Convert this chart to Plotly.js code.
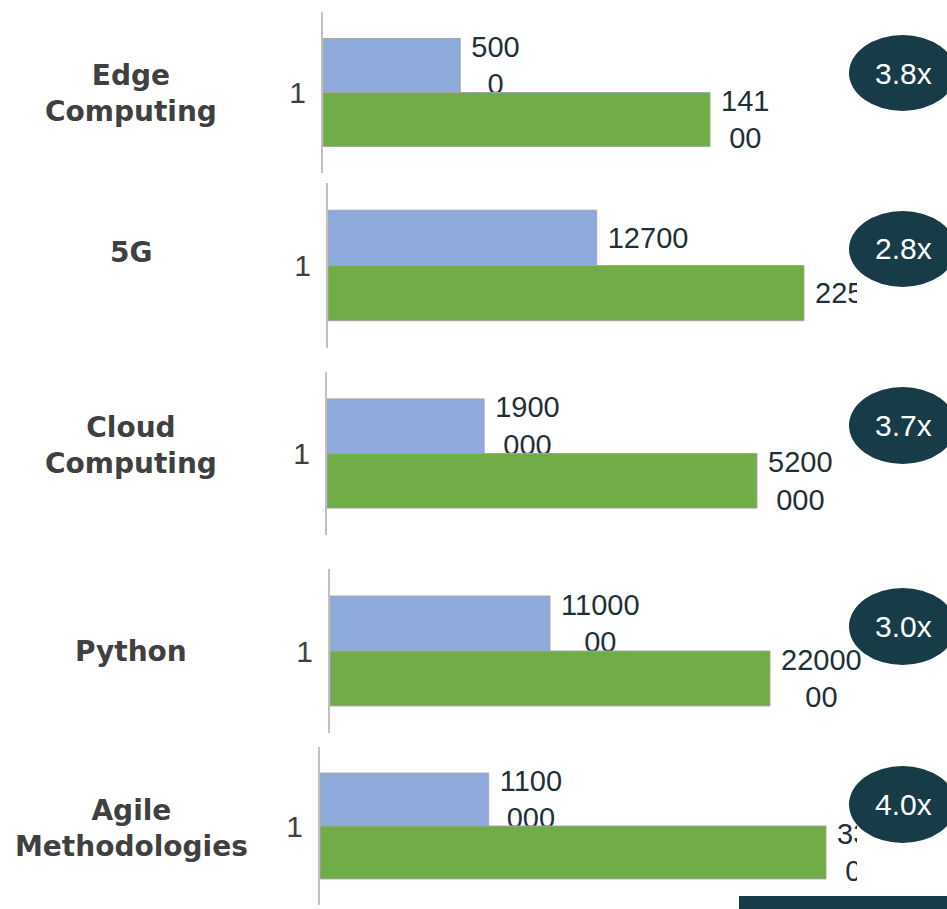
<!DOCTYPE html>
<html>
<head>
<meta charset="utf-8">
<script src="https://cdn.plot.ly/plotly-3.0.1.min.js"></script>
<style>html,body{margin:0;padding:0;background:#fff;}#chart{width:947px;height:909px;}</style>
</head>
<body>
<div id="chart"></div>
<script>
// ---- data ----
const categories = ["Edge<br>Computing", "5G", "Cloud<br>Computing", "Python", "Agile<br>Methodologies"];
const tickLabel = "1";
const blueValues = [5000, 12700, 1900000, 1100000, 1100000];
const greenValues = [14100, 22500, 5200000, 2200000, 3300000];
const ratioLabels = ["3.8x", "2.8x", "3.7x", "3.0x", "4.0x"];
const wrapWidths = [3, 5, 4, 5, 4];

// ---- layout helpers (pixel geometry of each panel) ----
const W = 947, H = 909;
const panels = [
  {ax: 323, clip: 857, top: 12,  bottom: 173, xmax: 19456,   oval: [35, 111]},
  {ax: 328, clip: 857, top: 183, bottom: 348, xmax: 25005,   oval: [211, 287]},
  {ax: 327, clip: 862, top: 372, bottom: 535, xmax: 6469767, oval: [387, 464]},
  {ax: 330, clip: 866, top: 569, bottom: 733, xmax: 2680000, oval: [588, 665]},
  {ax: 320, clip: 857, top: 747, bottom: 905, xmax: 3502174, oval: [766, 843]}
];
const labelY = [93, 252, 445, 651, 828];

function wrap(v, n) {
  const s = String(v);
  const parts = [];
  for (let i = 0; i < s.length; i += n) parts.push('\u00a0' + s.slice(i, i + n));
  return parts.join('<br>');
}

const BLUE = '#8eaadb', GREEN = '#70ad47', DARK = '#173b47';
const traces = [];
const layout = {
  width: W, height: H,
  margin: {l: 0, r: 0, t: 0, b: 0},
  paper_bgcolor: '#ffffff', plot_bgcolor: 'rgba(0,0,0,0)',
  barmode: 'group', bargap: 0.33, bargroupgap: 0,
  showlegend: false,
  shapes: [], annotations: []
};

panels.forEach((p, i) => {
  const k = i === 0 ? '' : String(i + 1);
  const xa = 'x' + k, ya = 'y' + k;
  const common = {
    type: 'bar', orientation: 'h', xaxis: xa, yaxis: ya,
    y: [tickLabel], textposition: 'outside', cliponaxis: true,
    constraintext: 'none', hoverinfo: 'none',
    textfont: {family: 'Liberation Sans, Arial, sans-serif', size: 29, color: '#1f3038'}
  };
  traces.push(Object.assign({}, common, {
    x: [blueValues[i]], text: [wrap(blueValues[i], wrapWidths[i])],
    marker: {color: BLUE, line: {color: '#a6a6a6', width: 1}}
  }));
  traces.push(Object.assign({}, common, {
    x: [greenValues[i]], text: [wrap(greenValues[i], wrapWidths[i])],
    marker: {color: GREEN, line: {color: '#a6a6a6', width: 1}}
  }));
  layout['xaxis' + k] = {
    domain: [p.ax / W, p.clip / W], range: [0, p.xmax], anchor: ya,
    visible: false, fixedrange: true
  };
  layout['yaxis' + k] = {
    domain: [1 - p.bottom / H, 1 - p.top / H], anchor: xa,
    type: 'category', autorange: 'reversed',
    showline: true, linecolor: '#c0c0c0', linewidth: 2,
    showgrid: false, zeroline: false, ticks: '', ticklabelstandoff: 9,
    tickfont: {family: 'Liberation Sans, Arial, sans-serif', size: 30, color: '#404040'},
    fixedrange: true
  };
  layout.shapes.push({
    type: 'circle', xref: 'paper', yref: 'paper', layer: 'above',
    x0: 849 / W, x1: 956 / W, y0: 1 - p.oval[1] / H, y1: 1 - p.oval[0] / H,
    fillcolor: DARK, line: {width: 0}
  });
  layout.annotations.push({
    xref: 'paper', yref: 'paper', x: 903 / W, y: 1 - ((p.oval[0] + p.oval[1]) / 2) / H,
    xanchor: 'center', yanchor: 'middle', showarrow: false, text: ratioLabels[i],
    font: {family: 'Liberation Sans, Arial, sans-serif', size: 30, color: '#ffffff'}
  });
  layout.annotations.push({
    xref: 'paper', yref: 'paper', x: 131 / W, y: 1 - labelY[i] / H,
    xanchor: 'center', yanchor: 'middle', align: 'center', showarrow: false,
    text: '<b>' + categories[i].split('<br>').join('</b><br><b>') + '</b>',
    font: {family: 'DejaVu Sans, sans-serif', size: 28, color: '#404040'}
  });
});

layout.shapes.push({
  type: 'rect', xref: 'paper', yref: 'paper', layer: 'above',
  x0: 739 / W, x1: 1, y0: 0, y1: 1 - 896 / H,
  fillcolor: DARK, line: {width: 0}
});

Plotly.newPlot('chart', traces, layout, {displayModeBar: false, staticPlot: true});
</script>
</body>
</html>
